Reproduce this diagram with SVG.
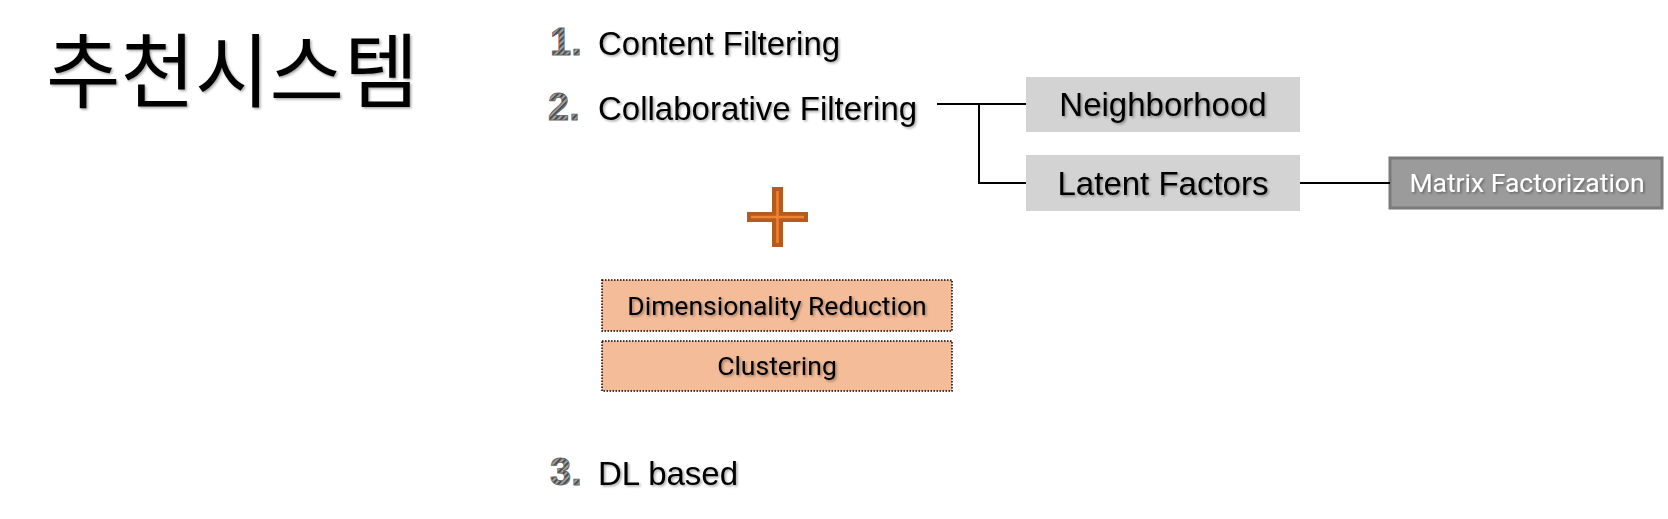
<svg xmlns="http://www.w3.org/2000/svg" width="1668" height="519" viewBox="0 0 1668 519">
  <defs>
    <pattern id="hatch" patternUnits="userSpaceOnUse" width="4" height="4" patternTransform="rotate(45)">
      <rect width="4" height="4" fill="#a0a0a0"/>
      <rect width="1.8" height="4" fill="#454545"/>
    </pattern>
    <filter id="shadow" x="-5%" y="-20%" width="110%" height="150%">
      <feDropShadow dx="1.5" dy="1.5" stdDeviation="1" flood-color="#000" flood-opacity="0.35"/>
    </filter>
    <style>
      .title { font-family: "Noto Sans CJK KR", "Noto Sans", sans-serif; font-size: 81px; fill: #000; }
      .num { font-family: "Liberation Sans", Arial, sans-serif; font-weight: bold; font-size: 38px; fill: url(#hatch); stroke: #666; stroke-width: 0.8; }
      .item { font-family: "Liberation Sans", Arial, sans-serif; font-size: 33px; fill: #000; }
      .gbox { fill: #d3d3d3; }
      .glabel { font-family: "Liberation Sans", Arial, sans-serif; font-size: 33px; fill: #000; text-anchor: middle; }
      .obox { fill: #f4bc98; stroke: #000; stroke-width: 1.5; stroke-dasharray: 1.5 1.5; }
      .olabel { font-family: Roboto, "Noto Sans", sans-serif; font-size: 26.5px; fill: #000; text-anchor: middle; }
      .mfbox { fill: #9b9b9b; stroke: #7a7a7a; stroke-width: 3; }
      .mflabel { font-family: Roboto, "Noto Sans", sans-serif; font-size: 26.5px; fill: #fff; text-anchor: middle; }
      .conn { stroke: #000; stroke-width: 2; fill: none; }
    </style>
  </defs>

  <g id="title">
    <text class="title" x="46" y="101" filter="url(#shadow)">추천시스템</text>
  </g>

  <g id="item1">
    <text class="num" x="550" y="55">1.</text>
    <text class="item" x="598" y="55" filter="url(#shadow)">Content Filtering</text>
  </g>

  <g id="item2">
    <text class="num" x="548" y="120">2.</text>
    <text class="item" x="598" y="120" filter="url(#shadow)">Collaborative Filtering</text>
  </g>

  <g id="neighborhood">
    <rect class="gbox" x="1026" y="77" width="274" height="55"/>
    <text class="glabel" x="1163" y="116" filter="url(#shadow)">Neighborhood</text>
  </g>

  <g id="latent-factors">
    <rect class="gbox" x="1026" y="155" width="274" height="56"/>
    <text class="glabel" x="1163" y="195" filter="url(#shadow)">Latent Factors</text>
  </g>

  <g id="matrix-factorization">
    <rect class="mfbox" x="1390" y="158" width="272" height="50"/>
    <text class="mflabel" x="1527" y="192" filter="url(#shadow)">Matrix Factorization</text>
  </g>

  <g id="plus">
    <path d="M772 187 H783 V212 H808 V222 H783 V247 H772 V222 H747 V212 H772 Z" fill="#b65b1f"/>
    <line x1="777.5" y1="191" x2="777.5" y2="243" stroke="#f08232" stroke-width="2.5"/>
    <line x1="751" y1="217" x2="804" y2="217" stroke="#f08232" stroke-width="2.5"/>
  </g>

  <g id="dimensionality-reduction">
    <rect class="obox" x="602" y="280" width="350" height="51"/>
    <text class="olabel" x="777" y="315" filter="url(#shadow)">Dimensionality Reduction</text>
  </g>

  <g id="clustering">
    <rect class="obox" x="602" y="341" width="350" height="50"/>
    <text class="olabel" x="777" y="375" filter="url(#shadow)">Clustering</text>
  </g>

  <g id="item3">
    <text class="num" x="550" y="485">3.</text>
    <text class="item" x="598" y="485" filter="url(#shadow)">DL based</text>
  </g>

  <g id="connectors">
    <path class="conn" d="M937 104 H1026"/>
    <path class="conn" d="M979 104 V183 H1026"/>
    <path class="conn" d="M1300 183 H1390"/>
  </g>
</svg>
